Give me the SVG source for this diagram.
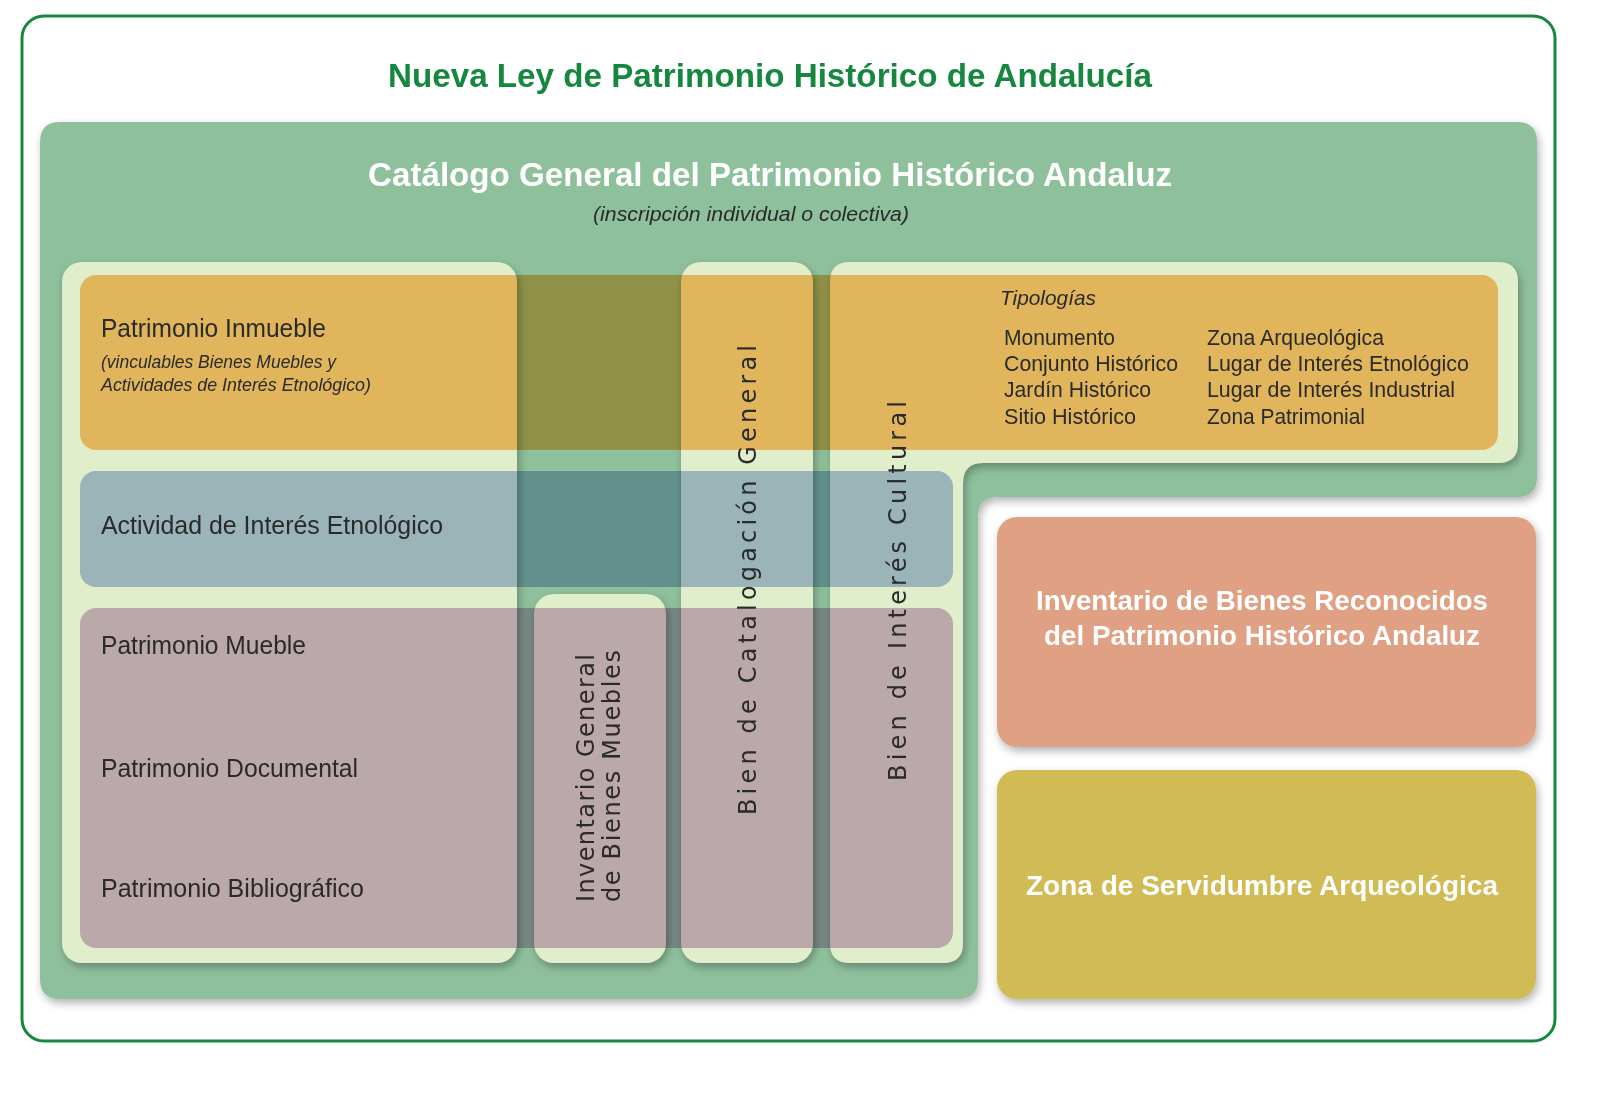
<svg xmlns="http://www.w3.org/2000/svg" width="1600" height="1094" viewBox="0 0 1600 1094">
<style>
.t{font-family:"Liberation Sans",Arial,sans-serif;fill:#2a2a2a}
.w{font-family:"Liberation Sans",Arial,sans-serif;fill:#fff;font-weight:bold}
.it{font-style:italic}
.v{font-family:"DejaVu Sans","Liberation Sans",sans-serif;fill:#2a2a2a;font-size:24px}
.band{mix-blend-mode:multiply}
.light{fill:#e0eecb;filter:url(#sh)}
</style>
<defs>
<filter id="sh" x="-10%" y="-10%" width="120%" height="120%">
<feDropShadow dx="2" dy="4" stdDeviation="4" flood-color="#000" flood-opacity="0.3"/>
</filter>
</defs>
<rect width="1600" height="1094" fill="#fff"/>
<rect x="22" y="16" width="1533" height="1025" rx="22" fill="#fff" stroke="#16873f" stroke-width="3"/>
<text x="770" y="87" text-anchor="middle" font-family="Liberation Sans,Arial,sans-serif" font-weight="bold" font-size="34" fill="#16873f" textLength="764" lengthAdjust="spacingAndGlyphs">Nueva Ley de Patrimonio Histórico de Andalucía</text>

<g id="catalogo">
<path d="M60,122 H1517 Q1537,122 1537,142 V477 Q1537,497 1517,497 H998 Q978,497 978,517 V979 Q978,999 958,999 H60 Q40,999 40,979 V142 Q40,122 60,122 Z" fill="#8fc09c" filter="url(#sh)"/>
<text class="w" x="770" y="186" text-anchor="middle" font-size="33" textLength="804" lengthAdjust="spacingAndGlyphs">Catálogo General del Patrimonio Histórico Andaluz</text>
<text class="t it" x="751" y="221" text-anchor="middle" font-size="20" textLength="316" lengthAdjust="spacingAndGlyphs">(inscripción individual o colectiva)</text>
</g>

<g id="panels">
<rect class="light" x="62" y="262" width="455" height="701" rx="20"/>
<rect class="light" x="534" y="594" width="132" height="369" rx="20"/>
<rect class="light" x="681" y="262" width="132" height="701" rx="20"/>
<path class="light" d="M850,262 H1498 Q1518,262 1518,282 V443 Q1518,463 1498,463 H983 Q963,463 963,483 V943 Q963,963 943,963 H850 Q830,963 830,943 V282 Q830,262 850,262 Z"/>
</g>

<g id="bands">
<rect class="band" x="80" y="275" width="1418" height="175" rx="16" fill="#ffc274"/>
<rect class="band" x="80" y="471" width="873" height="116" rx="16" fill="#afc1e7"/>
<rect class="band" x="80" y="608" width="873" height="340" rx="16" fill="#d5b4d6"/>
</g>

<g id="inmueble">
<text class="t" x="101" y="337" font-size="26" textLength="225" lengthAdjust="spacingAndGlyphs">Patrimonio Inmueble</text>
<text class="t it" x="101" y="368" font-size="18" textLength="235" lengthAdjust="spacingAndGlyphs">(vinculables Bienes Muebles y</text>
<text class="t it" x="101" y="391" font-size="18" textLength="270" lengthAdjust="spacingAndGlyphs">Actividades de Interés Etnológico)</text>
</g>
<g id="tipologias">
<text class="t it" x="1000" y="305" font-size="21" textLength="96" lengthAdjust="spacingAndGlyphs">Tipologías</text>
<g class="t" font-size="22">
<text x="1004" y="345" textLength="111" lengthAdjust="spacingAndGlyphs">Monumento</text>
<text x="1004" y="371" textLength="174" lengthAdjust="spacingAndGlyphs">Conjunto Histórico</text>
<text x="1004" y="397" textLength="147" lengthAdjust="spacingAndGlyphs">Jardín Histórico</text>
<text x="1004" y="424" textLength="132" lengthAdjust="spacingAndGlyphs">Sitio Histórico</text>
<text x="1207" y="345" textLength="177" lengthAdjust="spacingAndGlyphs">Zona Arqueológica</text>
<text x="1207" y="371" textLength="262" lengthAdjust="spacingAndGlyphs">Lugar de Interés Etnológico</text>
<text x="1207" y="397" textLength="248" lengthAdjust="spacingAndGlyphs">Lugar de Interés Industrial</text>
<text x="1207" y="424" textLength="158" lengthAdjust="spacingAndGlyphs">Zona Patrimonial</text>
</g>
</g>
<g id="actividad"><text class="t" x="101" y="534" font-size="26" textLength="342" lengthAdjust="spacingAndGlyphs">Actividad de Interés Etnológico</text></g>
<g id="mueble">
<text class="t" x="101" y="654" font-size="26" textLength="205" lengthAdjust="spacingAndGlyphs">Patrimonio Mueble</text>
<text class="t" x="101" y="777" font-size="26" textLength="257" lengthAdjust="spacingAndGlyphs">Patrimonio Documental</text>
<text class="t" x="101" y="897" font-size="26" textLength="263" lengthAdjust="spacingAndGlyphs">Patrimonio Bibliográfico</text>
</g>

<g id="igbm">
<text class="v" transform="translate(594,902) rotate(-90)" textLength="248" lengthAdjust="spacing" font-size="22">Inventario General</text>
<text class="v" transform="translate(620,902) rotate(-90)" textLength="252" lengthAdjust="spacing" font-size="22">de Bienes Muebles</text>
</g>
<g id="bcg"><text class="v" transform="translate(756,815) rotate(-90)" textLength="470" lengthAdjust="spacing">Bien de Catalogación General</text></g>
<g id="bic"><text class="v" transform="translate(906,781) rotate(-90)" textLength="380" lengthAdjust="spacing">Bien de Interés Cultural</text></g>

<g id="inventario">
<rect x="997" y="517" width="539" height="230" rx="20" fill="#dfa083" filter="url(#sh)"/>
<text class="w" x="1262" y="610" text-anchor="middle" font-size="28" textLength="452" lengthAdjust="spacingAndGlyphs">Inventario de Bienes Reconocidos</text>
<text class="w" x="1262" y="645" text-anchor="middle" font-size="28" textLength="436" lengthAdjust="spacingAndGlyphs">del Patrimonio Histórico Andaluz</text>
</g>
<g id="zona">
<rect x="997" y="770" width="539" height="229" rx="20" fill="#d1bb55" filter="url(#sh)"/>
<text class="w" x="1262" y="895" text-anchor="middle" font-size="28" textLength="472" lengthAdjust="spacingAndGlyphs">Zona de Servidumbre Arqueológica</text>
</g>
<g id="connectors"/>
</svg>
